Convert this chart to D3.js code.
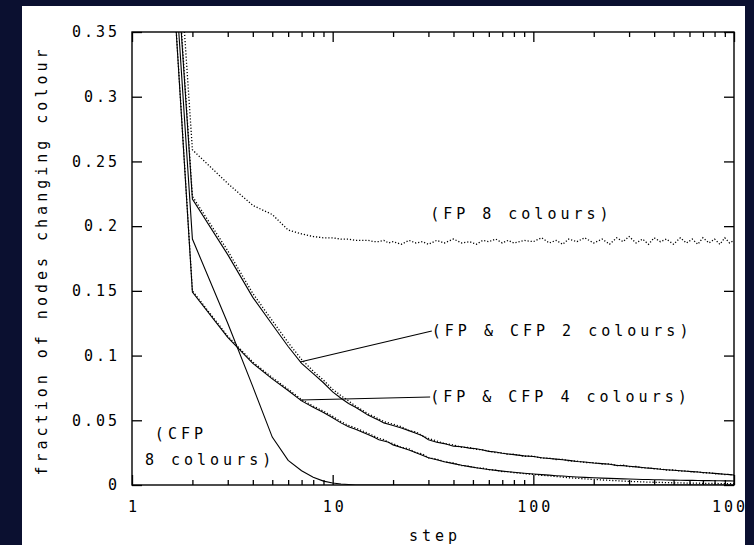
<!DOCTYPE html>
<html>
<head>
<meta charset="utf-8">
<script src="https://cdn.jsdelivr.net/npm/d3@7"></script>
<style>
	body { margin: 0; background: #0b1030; }
	svg { display: block; }
	.note { font-family: "DejaVu Sans Mono", monospace; font-size: 15px; fill: #000; letter-spacing: 4px; }
</style>
</head>
<body>
<div id="chart"></div>
<script>
// step numbers shared by every series
const steps = [1, 2, 3, 4, 5, 6, 7, 8, 9, 10, 11, 12, 13, 14, 15, 16, 17, 18, 19, 20,
	22, 24, 26, 28, 30, 33, 36, 40, 44, 48, 52, 56, 60, 65, 70, 75, 80, 90, 100, 110,
	120, 130, 140, 150, 165, 180, 200, 220, 240, 260, 280, 300, 325, 350, 375, 400, 430, 460, 500, 540,
	580, 620, 660, 700, 750, 800, 850, 900, 950, 1000];

// fraction of nodes changing colour
const fp8 = [0.95, 0.259, 0.233, 0.216, 0.209, 0.197, 0.194, 0.192, 0.191, 0.191,
	0.190, 0.190, 0.189, 0.189, 0.189, 0.188, 0.188, 0.189, 0.187, 0.188,
	0.186, 0.189, 0.187, 0.188, 0.186, 0.189, 0.187, 0.190, 0.187, 0.188,
	0.186, 0.189, 0.188, 0.190, 0.187, 0.189, 0.187, 0.189, 0.188, 0.191,
	0.187, 0.189, 0.186, 0.190, 0.188, 0.191, 0.187, 0.190, 0.186, 0.191,
	0.188, 0.192, 0.187, 0.190, 0.186, 0.191, 0.188, 0.190, 0.186, 0.191,
	0.187, 0.190, 0.186, 0.191, 0.187, 0.190, 0.186, 0.191, 0.187, 0.189];
const cfp8 = [0.9, 0.190, 0.125, 0.076, 0.037, 0.019, 0.011, 0.006, 0.003, 0.0015,
	0.0008, 0.0004, 0, 0, 0, 0, 0, 0, 0, 0,
	0, 0, 0, 0, 0, 0, 0, 0, 0, 0, 0, 0, 0, 0, 0, 0, 0, 0, 0, 0,
	0, 0, 0, 0, 0, 0, 0, 0, 0, 0, 0, 0, 0, 0, 0, 0, 0, 0, 0, 0,
	0, 0, 0, 0, 0, 0, 0, 0, 0, 0];
const cfp2 = [0.92, 0.221, 0.178, 0.145, 0.124, 0.107, 0.094, 0.086, 0.079, 0.072,
	0.067, 0.063, 0.060, 0.057, 0.054, 0.052, 0.050, 0.048, 0.047, 0.046,
	0.044, 0.042, 0.040, 0.038, 0.035, 0.033, 0.032, 0.030, 0.0295, 0.0285,
	0.028, 0.027, 0.026, 0.0255, 0.0245, 0.024, 0.0235, 0.0225, 0.022, 0.021,
	0.0205, 0.020, 0.0195, 0.019, 0.0182, 0.0178, 0.017, 0.0165, 0.016, 0.0152,
	0.015, 0.0145, 0.014, 0.0135, 0.013, 0.0128, 0.0122, 0.0118, 0.0114, 0.011,
	0.0106, 0.0103, 0.010, 0.0097, 0.0093, 0.009, 0.0086, 0.0083, 0.008, 0.0077];
const fp2 = [0.93, 0.223, 0.181, 0.148, 0.127, 0.110, 0.097, 0.088, 0.081, 0.074,
	0.069, 0.065, 0.061, 0.058, 0.055, 0.053, 0.051, 0.049, 0.048, 0.047,
	0.045, 0.042, 0.041, 0.038, 0.036, 0.034, 0.032, 0.031, 0.029, 0.029,
	0.0275, 0.0272, 0.0262, 0.025, 0.0248, 0.0236, 0.0238, 0.0222, 0.0223, 0.0208,
	0.0208, 0.0197, 0.0198, 0.0186, 0.0185, 0.0174, 0.0172, 0.0162, 0.0163, 0.0150,
	0.0153, 0.0142, 0.0143, 0.0132, 0.0133, 0.0124, 0.0125, 0.0115, 0.0116, 0.0107,
	0.0109, 0.0100, 0.0102, 0.0094, 0.0095, 0.0087, 0.0088, 0.0081, 0.0082, 0.0076];
const cfp4 = [0.9, 0.149, 0.114, 0.094, 0.082, 0.073, 0.065, 0.060, 0.056, 0.052,
	0.048, 0.045, 0.043, 0.041, 0.039, 0.037, 0.035, 0.034, 0.033, 0.031,
	0.029, 0.027, 0.025, 0.023, 0.021, 0.0195, 0.018, 0.0165, 0.0152, 0.0142,
	0.0133, 0.0126, 0.012, 0.0113, 0.0107, 0.0102, 0.0098, 0.0091, 0.0085, 0.008,
	0.0076, 0.0072, 0.0069, 0.0066, 0.0062, 0.0059, 0.0056, 0.0053, 0.0051, 0.0049,
	0.0047, 0.0046, 0.0044, 0.0043, 0.0042, 0.0041, 0.0040, 0.0039, 0.0038, 0.0037,
	0.0036, 0.0036, 0.0035, 0.0034, 0.0034, 0.0033, 0.0033, 0.0032, 0.0032, 0.0031];
const fp4 = [0.9, 0.150, 0.115, 0.095, 0.083, 0.074, 0.066, 0.061, 0.057, 0.053,
	0.049, 0.046, 0.044, 0.042, 0.040, 0.038, 0.036, 0.035, 0.033, 0.032,
	0.029, 0.028, 0.025, 0.024, 0.021, 0.020, 0.018, 0.017, 0.015, 0.0145,
	0.0132, 0.013, 0.0118, 0.0115, 0.0104, 0.0103, 0.0095, 0.0088, 0.0082, 0.0075,
	0.0071, 0.0065, 0.0061, 0.0056, 0.0052, 0.0047, 0.0043, 0.0039, 0.0036, 0.0033,
	0.0030, 0.0028, 0.0026, 0.0024, 0.0022, 0.0021, 0.0020, 0.0018, 0.0017, 0.0016,
	0.0015, 0.0014, 0.0014, 0.0013, 0.0012, 0.0012, 0.0011, 0.0011, 0.0010, 0.0010];

const xMajor = [1, 10, 100, 1000];
const xLabels = ["1", "10", "100", "1000"];
const yTicks = [0, 0.05, 0.1, 0.15, 0.2, 0.25, 0.3, 0.35];
const yLabels = ["0", "0.05", "0.1", "0.15", "0.2", "0.25", "0.3", "0.35"];

// annotation text, anchored in data space (step, fraction)
const notes = [
	{text: "(FP 8 colours)", at: [30.6, 0.210]},
	{text: "(FP & CFP 2 colours)", at: [31.2, 0.119], from: [6.88, 0.095]},
	{text: "(FP & CFP 4 colours)", at: [30.6, 0.068], from: [6.88, 0.0657]},
	{text: "(CFP", at: [1.30, 0.040]},
	{text: "8 colours)", at: [1.16, 0.0193]}
];

const width = 754, height = 545;
const plotL = 132, plotR = 734, plotT = 32, plotB = 485;
const monoFont = "'DejaVu Sans Mono', monospace";

const x = d3.scaleLog().domain([1, 1000]).range([plotL, plotR]);
const y = d3.scaleLinear().domain([0, 0.35]).range([plotB, plotT]);

const svg = d3.select("#chart").append("svg")
	.attr("width", width)
	.attr("height", height);

const defs = svg.append("defs");
defs.append("clipPath").attr("id", "panelClip")
	.append("rect").attr("x", 22).attr("y", 6).attr("width", 723).attr("height", height - 6);
defs.append("clipPath").attr("id", "plotClip")
	.append("rect").attr("x", plotL).attr("y", plotT)
	.attr("width", plotR - plotL).attr("height", plotB - plotT);

const root = svg.append("g").attr("clip-path", "url(#panelClip)");
root.append("rect")
	.attr("x", 22).attr("y", 6)
	.attr("width", 723).attr("height", height - 6)
	.attr("fill", "#fff");

//curves
const series = [
	{vals: fp8, dotted: true},
	{vals: cfp8, dotted: false},
	{vals: fp2, dotted: true},
	{vals: cfp2, dotted: false},
	{vals: fp4, dotted: true},
	{vals: cfp4, dotted: false}
];

const line = d3.line()
	.x((d, i) => x(steps[i]))
	.y(d => y(d));

const plot = root.append("g").attr("clip-path", "url(#plotClip)");
plot.selectAll("path.curve")
	.data(series)
	.enter()
	.append("path")
	.attr("class", "curve")
	.attr("fill", "none")
	.attr("stroke", "#000")
	.attr("stroke-width", d => d.dotted ? 1.3 : 1.1)
	.attr("stroke-dasharray", d => d.dotted ? "1.2,1.9" : null)
	.attr("d", d => line(d.vals));

// axes, ticks pointing inward
const xMinor = x.ticks().filter(t => xMajor.indexOf(t) < 0);
const noLines = g => g.select(".domain").remove();

const styleText = (g, ls) => g
	.attr("font-family", monoFont)
	.attr("font-size", 15)
	.selectAll("text")
	.attr("fill", "#000")
	.style("letter-spacing", ls + "px");

root.append("g")
	.attr("transform", "translate(0," + plotB + ")")
	.call(d3.axisBottom(x).tickValues(xMinor).tickSizeInner(-5).tickSizeOuter(0).tickFormat(""))
	.call(noLines);
root.append("g")
	.attr("transform", "translate(0," + plotB + ")")
	.call(d3.axisBottom(x).tickValues(xMajor).tickSizeInner(-10).tickSizeOuter(0)
		.tickPadding(16.5).tickFormat((d, i) => xLabels[i]))
	.call(noLines)
	.call(g => styleText(g, 3).attr("dx", 1.5));
root.append("g")
	.attr("transform", "translate(0," + plotT + ")")
	.call(d3.axisTop(x).tickValues(xMinor).tickSizeInner(-5).tickSizeOuter(0).tickFormat(""))
	.call(noLines);
root.append("g")
	.attr("transform", "translate(0," + plotT + ")")
	.call(d3.axisTop(x).tickValues(xMajor).tickSizeInner(-10).tickSizeOuter(0).tickFormat(""))
	.call(noLines);
root.append("g")
	.attr("transform", "translate(" + plotL + ",0)")
	.call(d3.axisLeft(y).tickValues(yTicks).tickSizeInner(-10).tickSizeOuter(0)
		.tickPadding(12).tickFormat((d, i) => yLabels[i]))
	.call(noLines)
	.call(g => styleText(g, 3));
root.append("g")
	.attr("transform", "translate(" + plotR + ",0)")
	.call(d3.axisRight(y).tickValues(yTicks).tickSizeInner(-10).tickSizeOuter(0).tickFormat(""))
	.call(noLines);

root.selectAll(".tick line").attr("stroke-width", 1.3);

root.append("rect")
	.attr("x", plotL).attr("y", plotT)
	.attr("width", plotR - plotL).attr("height", plotB - plotT)
	.attr("fill", "none")
	.attr("stroke", "#000")
	.attr("stroke-width", 1.4);

// titles
root.append("text")
	.attr("class", "note")
	.attr("text-anchor", "middle")
	.attr("x", (plotL + plotR) / 2 + 2)
	.attr("y", 541)
	.text("step");

root.append("text")
	.attr("class", "note")
	.attr("text-anchor", "middle")
	.attr("transform", "translate(47," + ((plotT + plotB) / 2 + 2) + ") rotate(-90)")
	.text("fraction of nodes changing colour");

// annotations
root.selectAll("line.pointer")
	.data(notes.filter(d => d.from))
	.enter()
	.append("line")
	.attr("class", "pointer")
	.attr("x1", d => x(d.from[0]))
	.attr("y1", d => y(d.from[1]))
	.attr("x2", d => x(d.at[0]))
	.attr("y2", d => y(d.at[1]))
	.attr("stroke", "#000")
	.attr("stroke-width", 1.1);

root.selectAll("text.label")
	.data(notes)
	.enter()
	.append("text")
	.attr("class", "note label")
	.attr("x", d => x(d.at[0]))
	.attr("y", d => y(d.at[1]))
	.attr("dy", "0.36em")
	.text(d => d.text);
</script>
</body>
</html>
